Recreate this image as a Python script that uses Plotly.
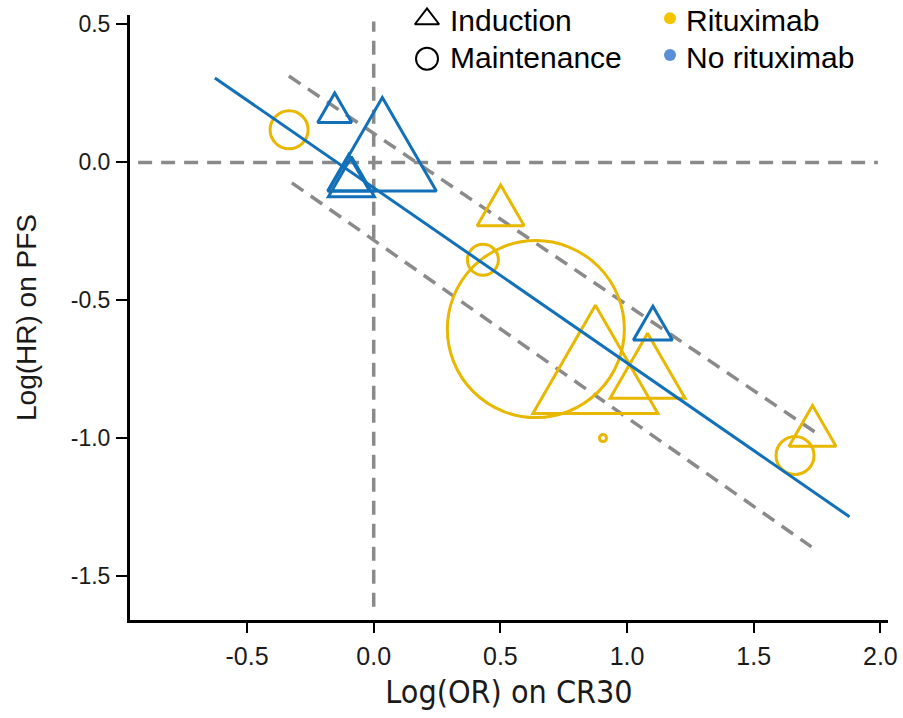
import math
import plotly.graph_objects as go

# ---- data ----
# Induction studies (triangles): centroid position and marker side length (px)
ind_rit_x = [0.501, 0.875, 1.081, 1.732]
ind_rit_y = [-0.180, -0.779, -0.776, -0.979]
ind_rit_w = [47, 125, 75, 47]

ind_norit_x = [-0.154, 0.034, -0.099, -0.088, 1.102]
ind_norit_y = [0.180, 0.009, -0.060, -0.076, -0.603]
ind_norit_w = [34, 108, 42, 46, 39]

# Maintenance studies (circles): centre and marker diameter (px)
mnt_rit_x = [-0.334, 0.431, 0.640, 0.905, 1.663]
mnt_rit_y = [0.118, -0.353, -0.604, -0.999, -1.062]
mnt_rit_w = [38, 31, 177, 7, 38]

# regression line and confidence band
reg_x = [-0.627, 1.878]
reg_y = [0.306, -1.284]
ci_x_up = [-0.335, 1.740]
ci_y_up = [0.313, -0.976]
ci_x_lo = [-0.323, 1.728]
ci_y_lo = [-0.074, -1.393]

x_ticks = [-0.5, 0.0, 0.5, 1.0, 1.5, 2.0]
x_ticktext = ["-0.5", "0.0", "0.5", "1.0", "1.5", "2.0"]
y_ticks = [-1.5, -1.0, -0.5, 0.0, 0.5]
y_ticktext = ["-1.5", "-1.0", "-0.5", "0.0", "0.5"]

X_RANGE = [-0.962, 2.03]
Y_RANGE = [-1.658, 0.534]

GOLD = "#E8B800"
BLUE = "#1170B8"
GRAY = "#8A8A8A"
DASH = "14px,9px"

W, H = 903, 718
PX_L, PX_R, PX_T, PX_B = 130, 888, 15, 620   # plot area in page pixels
KX = (PX_R - PX_L) / (X_RANGE[1] - X_RANGE[0])   # px per x unit
KY = (PX_B - PX_T) / (Y_RANGE[1] - Y_RANGE[0])   # px per y unit


def triangle_outline(xs, ys, sides):
    """Equilateral open triangles (side in px) around each centroid, in data units."""
    px, py = [], []
    for cx, cy, s in zip(xs, ys, sides):
        h = s * math.sqrt(3) / 2
        ax, ay = cx, cy + (2 * h / 3) / KY
        lx, ly = cx - (s / 2) / KX, cy - (h / 3) / KY
        rx, ry = cx + (s / 2) / KX, cy - (h / 3) / KY
        px += [ax, lx, rx, ax, lx, None]
        py += [ay, ly, ry, ay, ly, None]
    return px, py


fig = go.Figure()

# reference lines at 0
fig.add_trace(go.Scatter(x=[0, 0], y=[-1.61, 0.51], mode="lines",
                         line=dict(color=GRAY, width=3.5, dash=DASH),
                         hoverinfo="skip", showlegend=False))
fig.add_trace(go.Scatter(x=[-0.93, 1.99], y=[0, 0], mode="lines",
                         line=dict(color=GRAY, width=3.5, dash=DASH),
                         hoverinfo="skip", showlegend=False))
# confidence band
fig.add_trace(go.Scatter(x=ci_x_up, y=ci_y_up, mode="lines",
                         line=dict(color=GRAY, width=3.5, dash=DASH),
                         hoverinfo="skip", showlegend=False))
fig.add_trace(go.Scatter(x=ci_x_lo, y=ci_y_lo, mode="lines",
                         line=dict(color=GRAY, width=3.5, dash=DASH),
                         hoverinfo="skip", showlegend=False))

# studies
fig.add_trace(go.Scatter(x=mnt_rit_x, y=mnt_rit_y, mode="markers", name="Maintenance, rituximab",
                         marker=dict(symbol="circle-open", size=mnt_rit_w, color=GOLD, opacity=1,
                                     line=dict(width=3, color=GOLD)),
                         cliponaxis=False, showlegend=False))
tx, ty = triangle_outline(ind_rit_x, ind_rit_y, ind_rit_w)
fig.add_trace(go.Scatter(x=tx, y=ty, mode="lines", name="Induction, rituximab",
                         line=dict(color=GOLD, width=3),
                         cliponaxis=False, showlegend=False, hoverinfo="skip"))
tx, ty = triangle_outline(ind_norit_x, ind_norit_y, ind_norit_w)
fig.add_trace(go.Scatter(x=tx, y=ty, mode="lines", name="Induction, no rituximab",
                         line=dict(color=BLUE, width=3),
                         cliponaxis=False, showlegend=False, hoverinfo="skip"))

# regression line
fig.add_trace(go.Scatter(x=reg_x, y=reg_y, mode="lines",
                         line=dict(color=BLUE, width=3),
                         hoverinfo="skip", showlegend=False))

# ---- custom legend on a pixel-space overlay axis ----
fig.add_trace(go.Scatter(x=[427], y=[19], xaxis="x2", yaxis="y2", mode="markers",
                         marker=dict(symbol="triangle-up-open", size=21, color="black",
                                     line=dict(width=2, color="black")),
                         cliponaxis=False, showlegend=False, hoverinfo="skip"))
fig.add_trace(go.Scatter(x=[427], y=[58.7], xaxis="x2", yaxis="y2", mode="markers",
                         marker=dict(symbol="circle-open", size=22, color="black",
                                     line=dict(width=2, color="black")),
                         cliponaxis=False, showlegend=False, hoverinfo="skip"))
fig.add_trace(go.Scatter(x=[670], y=[18.3], xaxis="x2", yaxis="y2", mode="markers",
                         marker=dict(symbol="circle", size=12, color="#F5C400"),
                         cliponaxis=False, showlegend=False, hoverinfo="skip"))
fig.add_trace(go.Scatter(x=[670], y=[55], xaxis="x2", yaxis="y2", mode="markers",
                         marker=dict(symbol="circle", size=12, color="#5A8FD8"),
                         cliponaxis=False, showlegend=False, hoverinfo="skip"))

leg_font = dict(family="Liberation Sans, Arial, sans-serif", size=30, color="black")
for txt, lx, ly in [("Induction", 448, 20), ("Maintenance", 448, 57),
                    ("Rituximab", 684, 20), ("No rituximab", 684, 57)]:
    fig.add_annotation(x=lx, y=ly, xref="x2", yref="y2", text=txt, showarrow=False,
                       xanchor="left", yanchor="middle", font=leg_font)

fig.update_layout(
    width=W, height=H,
    margin=dict(l=PX_L, r=W - PX_R, t=PX_T, b=H - PX_B),
    paper_bgcolor="white", plot_bgcolor="white",
    showlegend=False,
    xaxis=dict(range=X_RANGE, tickvals=x_ticks, ticktext=x_ticktext, automargin=False,
               showgrid=False, zeroline=False, showline=True, linecolor="black", linewidth=3,
               ticks="outside", ticklen=10, tickwidth=2, tickcolor="black",
               ticklabelstandoff=2, ticklabeloverflow="allow",
               tickfont=dict(family="Liberation Sans, Arial, sans-serif", size=25, color="#1a1a1a"),
               title=dict(text="Log(OR) on CR30", standoff=12,
                          font=dict(family="DejaVu Sans Condensed, Liberation Sans Narrow, sans-serif",
                                    size=32, color="#1a1a1a"))),
    yaxis=dict(range=Y_RANGE, tickvals=y_ticks, ticktext=y_ticktext, automargin=False,
               showgrid=False, zeroline=False, showline=True, linecolor="black", linewidth=3,
               ticks="outside", ticklen=11, tickwidth=2, tickcolor="black",
               ticklabelstandoff=1,
               tickfont=dict(family="Liberation Sans, Arial, sans-serif", size=23, color="#1a1a1a"),
               title=dict(text="Log(HR) on PFS", standoff=26,
                          font=dict(family="Liberation Sans, Arial, sans-serif", size=28, color="#1a1a1a"))),
    xaxis2=dict(range=[PX_L, PX_R], overlaying="x", visible=False, fixedrange=True, automargin=False),
    yaxis2=dict(range=[PX_B, PX_T], overlaying="y", visible=False, fixedrange=True, automargin=False),
)

# remove the default 8px body margin so the figure fills the 903x718 window exactly
fig.write_html("out.html", config={"displayModeBar": False},
               post_script="document.body.style.margin='0';")
